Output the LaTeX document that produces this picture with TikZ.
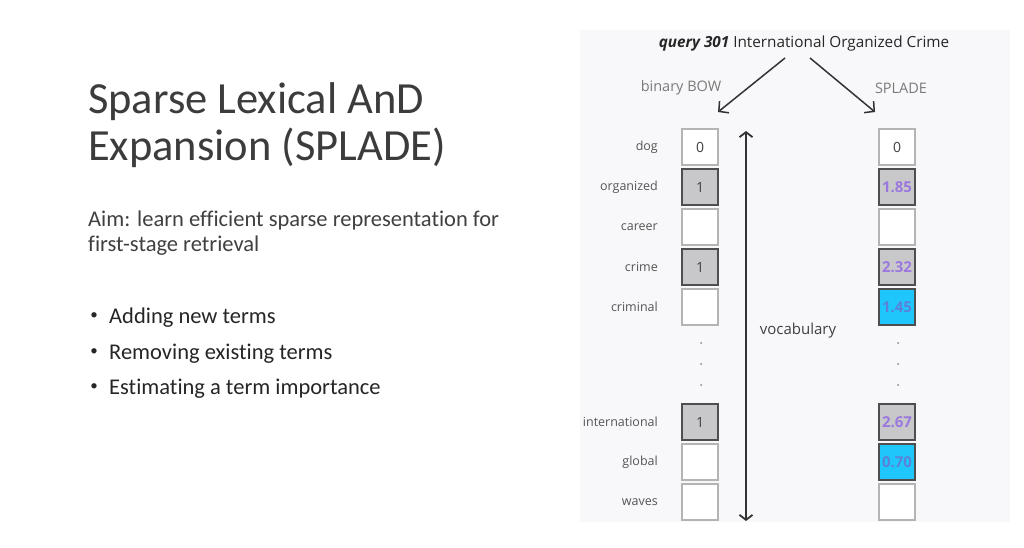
\documentclass[tikz,border=0pt]{standalone}
\usepackage{fontspec}
\setmainfont[Ligatures=NoCommon]{Carlito}
\newfontfamily\opensans{Open Sans}
\usepackage{xcolor}
\usetikzlibrary{arrows.meta,positioning}
\definecolor{panelbg}{HTML}{F8F8FA}
\definecolor{titlegray}{HTML}{262626}
\definecolor{aimgray}{HTML}{404040}
\definecolor{wordgray}{HTML}{555555}
\definecolor{labelgray}{HTML}{7A7A7A}
\definecolor{arrowgray}{HTML}{333333}
\definecolor{cellline}{HTML}{B4B4B4}
\definecolor{hitline}{HTML}{4E4E4E}
\definecolor{hitfill}{HTML}{C8C7CA}
\definecolor{expfill}{HTML}{1EC6FC}
\definecolor{weightpurple}{HTML}{9A78DE}
\definecolor{weightblue}{HTML}{5A82D8}

\begin{document}
\begin{tikzpicture}[x=1pt,y=-1pt,
  >={Straight Barb[length=7pt,width=15pt]},
  title/.style={anchor=base west,inner sep=0,text=titlegray!90,font=\fontsize{44.5}{50}\selectfont},
  aim/.style={anchor=base west,inner sep=0,text=aimgray,font=\fontsize{22.5}{27}\selectfont},
  item/.style={anchor=base west,inner sep=0,text=titlegray,font=\fontsize{22.5}{27}\selectfont},
  bullet/.style={inner sep=0,text=titlegray,font=\fontsize{15}{18}\selectfont},
  cell/.style={draw=cellline,line width=1.6pt,fill=white,minimum size=36pt,inner sep=0,outer sep=0,text=aimgray,font=\opensans\fontsize{14}{16}\selectfont},
  hit/.style={cell,draw=hitline,fill=hitfill},
  expand/.style={cell,draw=hitline,fill=expfill},
  weight/.style={font=\opensans\bfseries\fontsize{15}{17}\selectfont,text=weightpurple},
  newweight/.style={weight,text=weightblue},
  word/.style={inner sep=0,text=wordgray,font=\opensans\fontsize{12.5}{14}\selectfont},
  colhead/.style={inner sep=0,text=labelgray,font=\opensans\fontsize{14.5}{16}\selectfont},
  link/.style={->,draw=arrowgray,line width=1.5pt}
]
\useasboundingbox[fill=white] (0,0) rectangle (1024,547);
\fill[panelbg] (580,30) rectangle (1010,522);

\node[title] (title1) at (88,113) {Sparse Lexical AnD};
\node[title] (title2) at (88,160) {Expansion (SPLADE)};
\node[aim] (aim1) at (88,226) {Aim: learn efficient sparse representation for};
\node[aim] (aim2) at (88,251) {first-stage retrieval};
\node[bullet] (dot1) at (94,316) {\textbullet};
\node[item] (item1) at (109,323) {Adding new terms};
\node[bullet] (dot2) at (94,352) {\textbullet};
\node[item] (item2) at (109,359) {Removing existing terms};
\node[bullet] (dot3) at (94,387) {\textbullet};
\node[item] (item3) at (109,394) {Estimating a term importance};

\node[anchor=base,inner sep=0,text=titlegray,font=\opensans\fontsize{15.3}{18}\selectfont] (query) at (804,47) {\textbf{\textit{query 301}} International Organized Crime};
\node[colhead] (bow) at (681,88) {binary BOW};
\node[colhead] (splade) at (901,88) {SPLADE};
\coordinate (qL) at (785,58);
\coordinate (qR) at (810,58);
\coordinate (bowend) at (718,112);
\coordinate (splend) at (875,112);
\draw[link] (qL) -- (bowend);
\draw[link] (qR) -- (splend);

\node[cell] (bdog) at (700,147) {0};
\node[hit,below=4pt of bdog] (borg) {1};
\node[cell,below=4pt of borg] (bcar) {};
\node[hit,below=4pt of bcar] (bcri) {1};
\node[cell,below=4pt of bcri] (bcrl) {};
\node[hit] (bint) at (700,422) {1};
\node[cell,below=4pt of bint] (bglo) {};
\node[cell,below=4pt of bglo] (bwav) {};

\node[cell,right=161pt of bdog] (sdog) {0};
\node[hit,weight,below=4pt of sdog] (sorg) {1.85};
\node[cell,below=4pt of sorg] (scar) {};
\node[hit,weight,below=4pt of scar] (scri) {2.32};
\node[expand,newweight,below=4pt of scri] (scrl) {1.45};
\node[hit,weight,right=161pt of bint] (sint) {2.67};
\node[expand,newweight,below=4pt of sint] (sglo) {0.70};
\node[cell,below=4pt of sglo] (swav) {};

\node[word,left=24pt of bdog] (wdog) {dog};
\node[word,left=24pt of borg] (worg) {organized};
\node[word,left=24pt of bcar] (wcar) {career};
\node[word,left=24pt of bcri] (wcri) {crime};
\node[word,left=24pt of bcrl] (wcrl) {criminal};
\node[word,left=24pt of bint] (wint) {international};
\node[word,left=24pt of bglo] (wglo) {global};
\node[word,left=24pt of bwav] (wwav) {waves};

\fill[wordgray!70] (701,343) circle (1pt) (701,364) circle (1pt) (701,385) circle (1pt);
\fill[wordgray!70] (898,343) circle (1pt) (898,364) circle (1pt) (898,385) circle (1pt);

\coordinate (vtop) at (746,131);
\coordinate (vbot) at (746,521);
\draw[link,<->,>={Straight Barb[length=5pt,width=13pt]},line width=1.8pt] (vtop) -- (vbot);
\node[inner sep=0,text=aimgray,font=\opensans\fontsize{15}{18}\selectfont] (vocab) at (798,331) {vocabulary};
\end{tikzpicture}
\end{document}
